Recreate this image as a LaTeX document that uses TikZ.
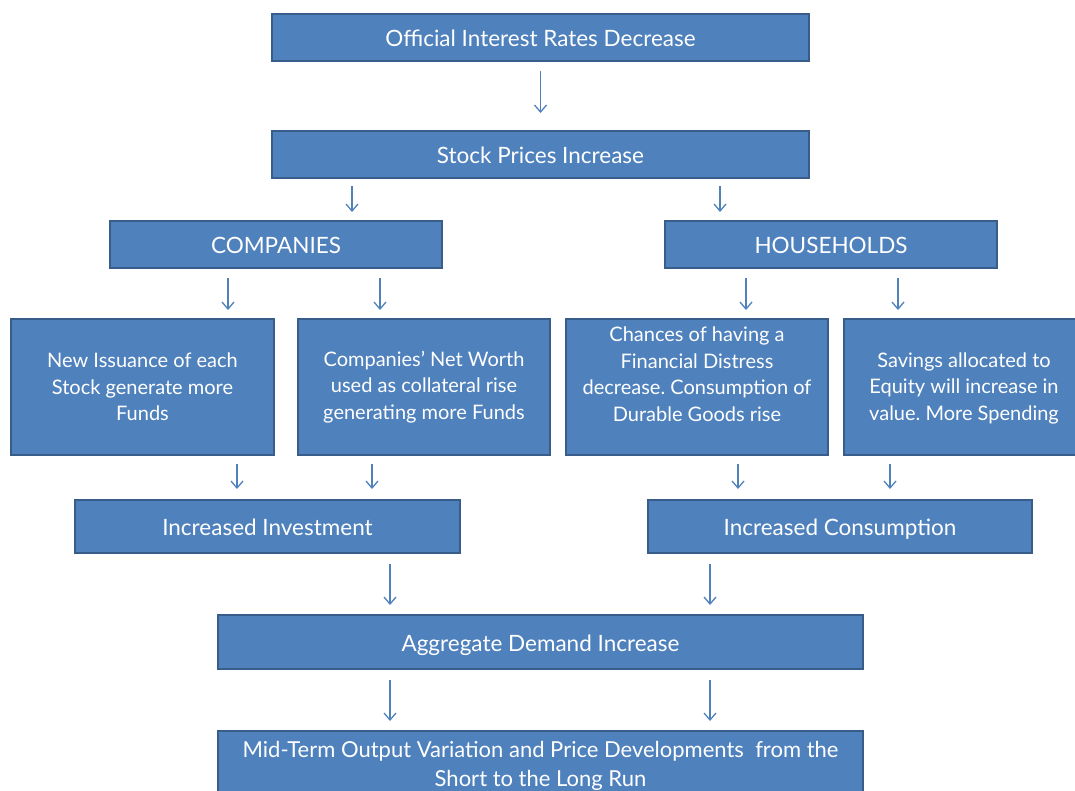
\documentclass[tikz,border=0pt]{standalone}
\usepackage{fontspec}
\setmainfont{Lato}
\usetikzlibrary{arrows.meta}
\definecolor{boxfill}{HTML}{4F81BD}
\definecolor{boxline}{HTML}{385D8A}
\definecolor{arrcol}{HTML}{4F81BD}
\tikzset{
  box/.style={draw=boxline, line width=2pt, fill=boxfill, text=white, align=center, inner sep=2pt},
  big/.style={font=\fontsize{22.5}{24}\selectfont\frenchspacing, text height=18pt, text depth=0pt},
  small/.style={font=\fontsize{20}{26.5}\selectfont\frenchspacing},
  arr/.style={draw=arrcol, line width=1.3pt, -{Straight Barb[length=7pt,width=12pt,line width=1.3pt]}},
}
\begin{document}
\begin{tikzpicture}[x=1pt,y=-1pt]
\useasboundingbox (0,0) rectangle (1075,790);
\clip (0,0) rectangle (1075,790);
% top row
\node[box,big,minimum width=537pt,minimum height=47pt] (off) at (540.5,37.5) {Official Interest Rates Decrease};
\node[box,big,minimum width=537pt,minimum height=47pt] (stock) at (540.5,154.5) {Stock Prices Increase};
\node[box,big,minimum width=332pt,minimum height=47pt] (comp) at (276,244.5) {COMPANIES};
\node[box,big,minimum width=332pt,minimum height=47pt] (house) at (831,244.5) {HOUSEHOLDS};
% middle boxes
\node[box,small,minimum width=263pt,minimum height=136pt] (issue) at (142.5,387) {New Issuance of each\\Stock generate more\\Funds};
\node[box,small,minimum width=252pt,minimum height=136pt] (worth) at (424,387) {Companies’ Net Worth\\used as collateral rise\\generating more Funds};
\node[box,minimum width=262pt,minimum height=136pt] (chance) at (697,387) {};
\node[small,text=white,align=center] at (697,374) {Chances of having a\\Financial Distress\\decrease. Consumption of\\Durable Goods rise};
\node[box,minimum width=240pt,minimum height=136pt] (save) at (964,387) {};
\node[small,text=white,align=center] at (964,388) {Savings allocated to\\Equity will increase in\\value. More Spending};
% lower boxes
\node[box,big,minimum width=385pt,minimum height=53pt] (inv) at (267.5,526.5) {Increased Investment};
\node[box,big,minimum width=384pt,minimum height=53pt] (cons) at (840,526.5) {Increased Consumption};
\node[box,big,minimum width=645pt,minimum height=54pt] (agg) at (540.5,642) {Aggregate Demand Increase};
\node[box,minimum width=645pt,minimum height=80pt] (mid) at (540.5,771) {};
\node[text=white,align=center,font=\fontsize{22}{29}\selectfont\frenchspacing] at (540.5,766) {Mid-Term Output Variation and Price Developments~ from the\\Short to the Long Run};
% arrows
\draw[arr] ([yshift=-9pt]off.south) -- ([yshift=17pt]stock.north);
\draw[arr] ([xshift=-188.5pt,yshift=-7pt]stock.south) -- ([xshift=76pt,yshift=8pt]comp.north);
\draw[arr] ([xshift=179.5pt,yshift=-7pt]stock.south) -- ([xshift=-111pt,yshift=8pt]house.north);
\draw[arr] ([xshift=-48pt,yshift=-9pt]comp.south) -- ([xshift=85.5pt,yshift=8pt]issue.north);
\draw[arr] ([xshift=104pt,yshift=-9pt]comp.south) -- ([xshift=-44pt,yshift=8pt]worth.north);
\draw[arr] ([xshift=-85pt,yshift=-9pt]house.south) -- ([xshift=49pt,yshift=8pt]chance.north);
\draw[arr] ([xshift=67pt,yshift=-9pt]house.south) -- ([xshift=-66pt,yshift=8pt]save.north);
\draw[arr] ([xshift=94.5pt,yshift=-8pt]issue.south) -- ([xshift=-30.5pt,yshift=10pt]inv.north);
\draw[arr] ([xshift=-52pt,yshift=-8pt]worth.south) -- ([xshift=104.5pt,yshift=10pt]inv.north);
\draw[arr] ([xshift=41pt,yshift=-8pt]chance.south) -- ([xshift=-102pt,yshift=10pt]cons.north);
\draw[arr] ([xshift=-74pt,yshift=-8pt]save.south) -- ([xshift=50pt,yshift=10pt]cons.north);
\draw[arr] ([xshift=122.5pt,yshift=-10pt]inv.south) -- ([xshift=-150.5pt,yshift=9pt]agg.north);
\draw[arr] ([xshift=-130pt,yshift=-10pt]cons.south) -- ([xshift=169.5pt,yshift=9pt]agg.north);
\draw[arr] ([xshift=-150.5pt,yshift=-10pt]agg.south) -- ([xshift=-150.5pt,yshift=9pt]mid.north);
\draw[arr] ([xshift=169.5pt,yshift=-10pt]agg.south) -- ([xshift=169.5pt,yshift=9pt]mid.north);
\end{tikzpicture}
\end{document}
